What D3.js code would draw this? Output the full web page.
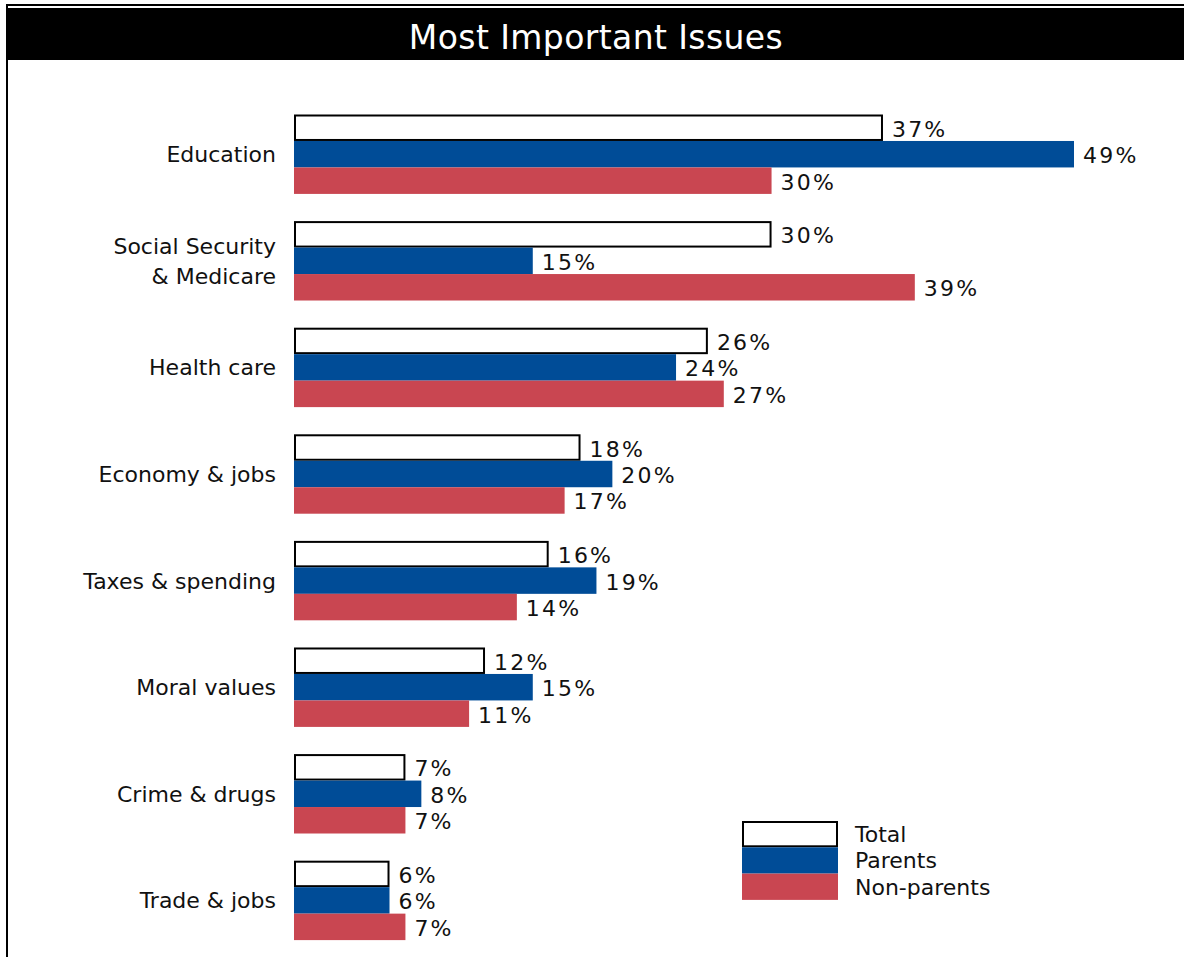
<!DOCTYPE html>
<html>
<head>
<meta charset="utf-8">
<script src="https://cdn.jsdelivr.net/npm/d3@7"></script>
<style>
  html, body { margin: 0; padding: 0; background: #fff; }
  svg { display: block; }
  text { font-family: "DejaVu Sans", Verdana, sans-serif; fill: #111; }
</style>
</head>
<body>
<svg id="chart" width="1184" height="957"></svg>
<script>
// Survey results: share naming each issue as most important
const categories = [
  ["Education"],
  ["Social Security", "& Medicare"],
  ["Health care"],
  ["Economy & jobs"],
  ["Taxes & spending"],
  ["Moral values"],
  ["Crime & drugs"],
  ["Trade & jobs"]
];
const seriesNames = ["Total", "Parents", "Non-parents"];
const totalValues     = [37, 30, 26, 18, 16, 12, 7, 6];
const parentValues    = [49, 15, 24, 20, 19, 15, 8, 6];
const nonParentValues = [30, 39, 27, 17, 14, 11, 7, 7];
const titleText = "Most Important Issues";

const seriesValues = [totalValues, parentValues, nonParentValues];
const fills = ["#ffffff", "#004C97", "#C94651"];

const svg = d3.select("#chart");
const W = 1184, H = 957;

// Frame: top rule, left rule, black title band
svg.append("line").attr("x1", 6).attr("x2", W).attr("y1", 5).attr("y2", 5)
  .attr("stroke", "#000").attr("stroke-width", 2);
svg.append("line").attr("x1", 7).attr("x2", 7).attr("y1", 4).attr("y2", H)
  .attr("stroke", "#000").attr("stroke-width", 2);
svg.append("rect").attr("x", 6).attr("y", 8).attr("width", W - 6).attr("height", 52)
  .attr("fill", "#000");
svg.append("text").attr("x", 596).attr("y", 49)
  .attr("text-anchor", "middle")
  .style("fill", "#fff").style("font-size", "33px").style("letter-spacing", "0.4px")
  .text(titleText);

// Scales
const x = d3.scaleLinear().domain([0, 49]).range([294, 1074]);
const y = d3.scaleBand()
  .domain(d3.range(categories.length))
  .range([114.5, 114.5 + 8 * 106.6 - 27.2])
  .paddingInner(0.255)
  .paddingOuter(0);
const ySub = d3.scaleBand().domain(d3.range(seriesNames.length)).range([0, y.bandwidth()]);

const groups = svg.selectAll("g.issue")
  .data(categories)
  .join("g")
  .attr("class", "issue")
  .attr("transform", (d, i) => `translate(0,${y(i)})`);

// Category labels (right-aligned, possibly two lines)
groups.each(function (lines, i) {
  const g = d3.select(this);
  const mid = y.bandwidth() / 2;
  const lh = 30;
  const first = mid + 8 - (lines.length - 1) * lh / 2;
  lines.forEach((ln, k) => {
    g.append("text")
      .attr("x", 276)
      .attr("y", first + k * lh)
      .attr("text-anchor", "end")
      .style("font-size", "22px")
      .text(ln);
  });
});

// Bars and value labels
seriesNames.forEach((name, s) => {
  groups.append("rect")
    .attr("x", (d, i) => s === 0 ? x(0) + 1 : x(0))
    .attr("y", s === 0 ? ySub(s) + 1 : ySub(s))
    .attr("width", (d, i) => s === 0 ? x(seriesValues[s][i]) - x(0) - 2 : x(seriesValues[s][i]) - x(0))
    .attr("height", s === 0 ? ySub.bandwidth() - 2 : ySub.bandwidth())
    .attr("fill", fills[s])
    .attr("stroke", s === 0 ? "#000" : "none")
    .attr("stroke-width", s === 0 ? 2 : 0);

  groups.append("text")
    .attr("x", (d, i) => x(seriesValues[s][i]) + 9)
    .attr("y", ySub(s) + ySub.bandwidth() / 2 + 9)
    .style("font-size", "22px")
    .style("letter-spacing", "2.2px")
    .text((d, i) => seriesValues[s][i] + "%");
});

// Legend
const legend = svg.append("g").attr("transform", "translate(742,821)");
seriesNames.forEach((name, s) => {
  const top = s * 26.3;
  legend.append("rect")
    .attr("x", s === 0 ? 1 : 0)
    .attr("y", s === 0 ? top + 1 : top)
    .attr("width", s === 0 ? 94 : 96)
    .attr("height", s === 0 ? 24.3 : 26.3)
    .attr("fill", fills[s])
    .attr("stroke", s === 0 ? "#000" : "none")
    .attr("stroke-width", s === 0 ? 2 : 0);
  legend.append("text")
    .attr("x", 113)
    .attr("y", top + 21)
    .style("font-size", "22px")
    .text(name);
});
</script>
</body>
</html>
